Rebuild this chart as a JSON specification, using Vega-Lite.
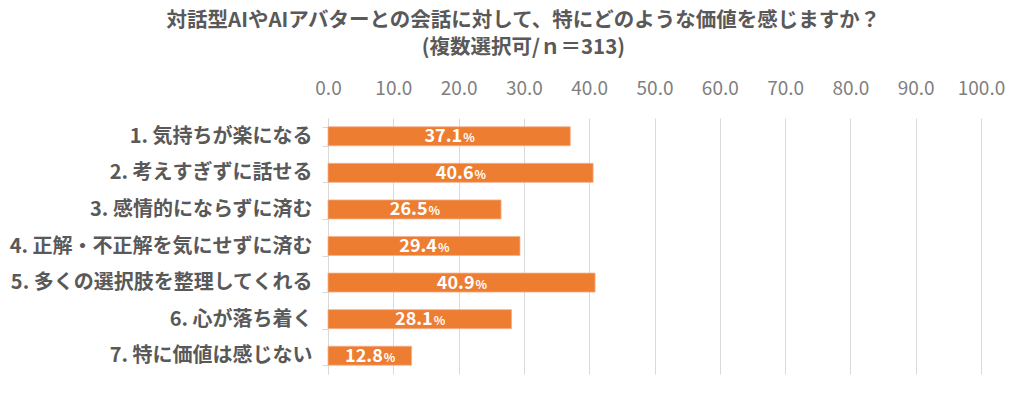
{
  "$schema": "https://vega.github.io/schema/vega-lite/v6.json",
  "width": 653,
  "height": 256,
  "padding": {"left": 8, "top": 10, "right": 43, "bottom": 20},
  "background": "white",
  "title": {
    "text": ["対話型AIやAIアバターとの会話に対して、特にどのような価値を感じますか？", "(複数選択可/ｎ＝313)"],
    "font": "Noto Sans CJK JP",
    "fontSize": 20.5,
    "fontWeight": "bold",
    "color": "#595959",
    "lineHeight": 27,
    "anchor": "middle",
    "frame": "bounds",
    "dx": 17,
    "offset": 21
  },
  "data": {
    "values": [
      {"item": "1. 気持ちが楽になる", "v": 37.1},
      {"item": "2. 考えすぎずに話せる", "v": 40.6},
      {"item": "3. 感情的にならずに済む", "v": 26.5},
      {"item": "4. 正解・不正解を気にせずに済む", "v": 29.4},
      {"item": "5. 多くの選択肢を整理してくれる", "v": 40.9},
      {"item": "6. 心が落ち着く", "v": 28.1},
      {"item": "7. 特に価値は感じない", "v": 12.8}
    ]
  },
  "transform": [{"calculate": "datum.v / 2", "as": "mid"}],
  "encoding": {
    "y": {
      "field": "item",
      "type": "nominal",
      "sort": null,
      "title": null,
      "scale": {"paddingInner": 0.48, "paddingOuter": 0.24},
      "axis": {
        "labelFont": "Noto Sans CJK JP",
        "labelFontSize": 20,
        "labelFontWeight": "bold",
        "labelColor": "#595959",
        "labelPadding": 10,
        "labelLimit": 400,
        "tickBand": "extent",
        "tickSize": 6,
        "tickColor": "#d9d9d9",
        "domainColor": "#d9d9d9",
        "minExtent": 320,
        "maxExtent": 320
      }
    }
  },
  "layer": [
    {
      "mark": {"type": "bar", "color": "#ED7D31", "stroke": "#f5b08a", "strokeWidth": 0.8},
      "encoding": {
        "x": {
          "field": "v",
          "type": "quantitative",
          "title": null,
          "scale": {"domain": [0, 100], "nice": false},
          "axis": {
            "orient": "top",
            "values": [0, 10, 20, 30, 40, 50, 60, 70, 80, 90, 100],
            "format": ".1f",
            "labelFont": "Noto Sans CJK JP",
            "labelFontSize": 19,
            "labelColor": "#7f7f7f",
            "labelPadding": 20,
            "ticks": false,
            "tickSize": 0,
            "domain": false,
            "grid": true,
            "gridColor": "#d9d9d9",
            "labelFlush": false
          }
        }
      }
    },
    {
      "mark": {"type": "text", "align": "right", "baseline": "middle", "dx": 13, "dy": 1, "font": "Noto Sans CJK JP", "fontSize": 18, "fontWeight": "bold", "color": "white"},
      "encoding": {
        "x": {"field": "mid", "type": "quantitative"},
        "text": {"field": "v", "type": "quantitative", "format": ".1f"}
      }
    },
    {
      "mark": {"type": "text", "align": "left", "baseline": "middle", "dx": 14, "dy": 2, "font": "Noto Sans CJK JP", "fontSize": 12, "fontWeight": "bold", "color": "white", "text": "%"},
      "encoding": {
        "x": {"field": "mid", "type": "quantitative"}
      }
    }
  ],
  "config": {"view": {"stroke": null}}
}
